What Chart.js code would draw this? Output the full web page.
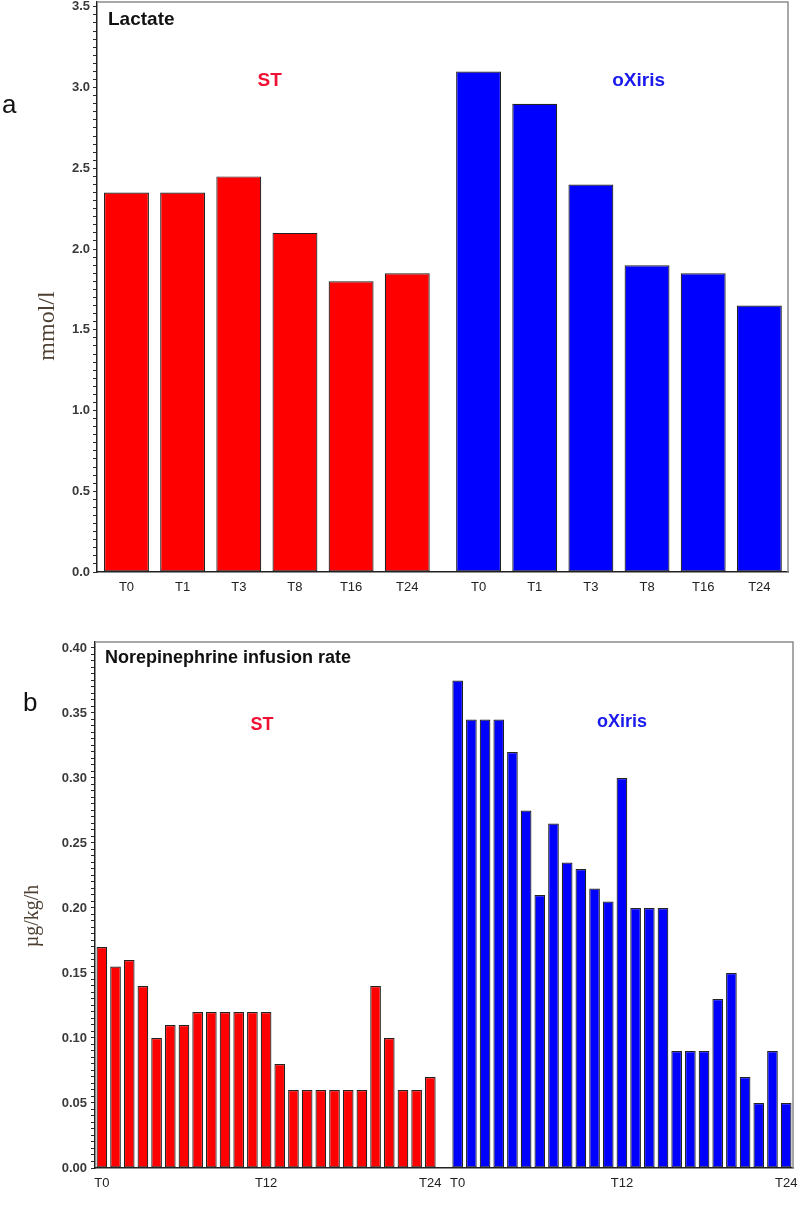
<!DOCTYPE html>
<html>
<head>
<meta charset="utf-8">
<script src="https://cdn.jsdelivr.net/npm/chart.js@4.4.1/dist/chart.umd.min.js"></script>
<style>
  html, body { margin: 0; padding: 0; background: #fff; }
  .panel { position: absolute; left: 0; width: 800px; }
  #panel-a { top: 0; height: 600px; }
  #panel-b { top: 600px; height: 605px; }
</style>
</head>
<body>
<div class="panel" id="panel-a"><canvas id="lactate-chart"></canvas></div>
<div class="panel" id="panel-b"><canvas id="ne-chart"></canvas></div>
<script>
// Panel a - lactate (mmol/l) at each sampling time
const lactateTimes = ['T0', 'T1', 'T3', 'T8', 'T16', 'T24'];
const lactateST = [2.35, 2.35, 2.45, 2.1, 1.8, 1.85];
const lactateOxiris = [3.1, 2.9, 2.4, 1.9, 1.85, 1.65];
const lactateTicks = [0, 0.5, 1.0, 1.5, 2.0, 2.5, 3.0, 3.5];

// Panel b - norepinephrine infusion rate (µg/kg/h), hourly T0..T24
const neHours = [0, 1, 2, 3, 4, 5, 6, 7, 8, 9, 10, 11, 12, 13, 14, 15, 16, 17, 18, 19, 20, 21, 22, 23, 24];
const neST = [0.17, 0.155, 0.16, 0.14, 0.10, 0.11, 0.11, 0.12, 0.12, 0.12, 0.12, 0.12, 0.12,
              0.08, 0.06, 0.06, 0.06, 0.06, 0.06, 0.06, 0.14, 0.10, 0.06, 0.06, 0.07];
const neOxiris = [0.375, 0.345, 0.345, 0.345, 0.32, 0.275, 0.21, 0.265, 0.235, 0.23, 0.215, 0.205, 0.30,
                  0.20, 0.20, 0.20, 0.09, 0.09, 0.09, 0.13, 0.15, 0.07, 0.05, 0.09, 0.05];
const neTickLabels = ['T0', 'T12', 'T24'];
const neTicks = [0, 0.05, 0.10, 0.15, 0.20, 0.25, 0.30, 0.35, 0.40];

const RED = '#ff0000';
const BLUE = '#0000ff';
const SANS = "'Liberation Sans', Arial, Helvetica, sans-serif";
const SERIF = "'Liberation Serif', 'Times New Roman', serif";
const TITLE_COLOR = '#4d4033';

Chart.defaults.font.family = SANS;

// y ticks every `step`, labels only on the major values
function minorTicks(max, step) {
    const ticks = [];
    const n = Math.floor(max / step + 1e-6);
    for (let i = 0; i <= n; i++) ticks.push({ value: +(i * step).toFixed(4) });
    return ticks;
}

function isMajor(v, majors) {
    return majors.some(m => Math.abs(m - v) < 1e-6);
}

// Plot frame (top/right edges) plus the text drawn inside the figure
function notesPlugin(notes) {
    return {
        id: 'notes',
        afterDatasetsDraw(chart) {
            const { ctx, chartArea } = chart;
            ctx.save();
            ctx.strokeStyle = '#8c8c8c';
            ctx.lineWidth = 1.5;
            ctx.beginPath();
            ctx.moveTo(chartArea.left, chartArea.top);
            ctx.lineTo(chartArea.right, chartArea.top);
            ctx.lineTo(chartArea.right, chartArea.bottom);
            ctx.stroke();

            ctx.textBaseline = 'middle';
            for (const n of notes) {
                const [x, y] = n.at(chart);
                ctx.save();
                ctx.translate(x, y);
                if (n.rotate) ctx.rotate(n.rotate);
                ctx.font = n.font;
                ctx.fillStyle = n.color;
                ctx.textAlign = n.align || 'center';
                ctx.fillText(n.text, 0, 0);
                ctx.restore();
            }
            ctx.restore();
        }
    };
}

function yAxis(max, step, majors, digits, width, tickPad) {
    return {
        stacked: true,
        min: 0,
        max: max,
        afterFit: s => { s.width = width; s.paddingTop = 0; s.paddingBottom = 0; },
        afterBuildTicks: s => { s.ticks = minorTicks(max, step); },
        grid: { drawOnChartArea: false, tickLength: 4, color: '#2a2a2a', tickWidth: 1 },
        border: { color: '#222', width: 1.5 },
        ticks: {
            autoSkip: false,
            padding: tickPad,
            color: '#3a3a3a',
            font: { size: 13, weight: 'bold' },
            callback: v => isMajor(v, majors) ? v.toFixed(digits) : ''
        }
    };
}

function xTicks(callback) {
    return {
        autoSkip: false,
        maxRotation: 0,
        padding: 8,
        color: '#222',
        font: { size: 13 },
        callback: callback
    };
}

const barStyle = { borderColor: '#222', borderWidth: 1.2, borderSkipped: false, categoryPercentage: 1 };

// ---- Panel a ----
const GROUP_GAP = 0.27;   // extra room between the ST and oXiris groups, in bar slots
const stX = lactateST.map((_, i) => i);
const oxX = lactateOxiris.map((_, i) => lactateST.length + GROUP_GAP + i);
const lactateLabels = [...lactateTimes, ...lactateTimes];

new Chart(document.getElementById('lactate-chart'), {
    type: 'bar',
    data: {
        datasets: [
            { label: 'ST', data: lactateST.map((v, i) => ({ x: stX[i], y: v })), backgroundColor: RED },
            { label: 'oXiris', data: lactateOxiris.map((v, i) => ({ x: oxX[i], y: v })), backgroundColor: BLUE }
        ]
    },
    options: {
        responsive: true,
        maintainAspectRatio: false,
        animation: false,
        layout: { padding: { left: 0, top: 2, right: 12, bottom: 0 } },
        datasets: { bar: { ...barStyle, barPercentage: 0.8 } },
        plugins: { legend: { display: false }, tooltip: { enabled: false } },
        scales: {
            x: {
                type: 'linear',
                stacked: true,
                offset: false,
                min: -0.525,
                max: 11.78,
                afterFit: s => { s.height = 28; s.paddingLeft = 0; s.paddingRight = 0; },
                afterBuildTicks: s => { s.ticks = [...stX, ...oxX].map(v => ({ value: v })); },
                grid: { display: false, drawTicks: false },
                border: { color: '#222', width: 1.5 },
                ticks: xTicks((v, i) => lactateLabels[i])
            },
            y: yAxis(3.53, 0.05, lactateTicks, 1, 97, 3)
        }
    },
    plugins: [notesPlugin([
        { text: 'a', font: '26px ' + SANS, color: '#111', align: 'left', at: () => [2, 106] },
        { text: 'mmol/l', font: '24px ' + SERIF, color: TITLE_COLOR, rotate: -Math.PI / 2, at: () => [48, 326] },
        { text: 'Lactate', font: 'bold 19px ' + SANS, color: '#111', align: 'left',
          at: c => [c.chartArea.left + 11, c.chartArea.top + 18] },
        { text: 'ST', font: 'bold 19px ' + SANS, color: '#ee1133',
          at: c => [c.scales.x.getPixelForValue(2.55), c.scales.y.getPixelForValue(3.04)] },
        { text: 'oXiris', font: 'bold 19px ' + SANS, color: '#1a1aee',
          at: c => [c.scales.x.getPixelForValue(9.12), c.scales.y.getPixelForValue(3.04)] }
    ])]
});

// ---- Panel b ----
const hourLabels = neHours.map(h => 'T' + h);
const neLabels = [...hourLabels, '', ...hourLabels];
const stData = [...neST, ...Array(neOxiris.length + 1).fill(null)];
const oxData = [...Array(neST.length + 1).fill(null), ...neOxiris];

new Chart(document.getElementById('ne-chart'), {
    type: 'bar',
    data: {
        labels: neLabels,
        datasets: [
            { label: 'ST', data: stData, backgroundColor: RED },
            { label: 'oXiris', data: oxData, backgroundColor: BLUE }
        ]
    },
    options: {
        responsive: true,
        maintainAspectRatio: false,
        animation: false,
        layout: { padding: { left: 0, top: 42, right: 7, bottom: 0 } },
        datasets: { bar: { ...barStyle, barPercentage: 0.78 } },
        plugins: { legend: { display: false }, tooltip: { enabled: false } },
        scales: {
            x: {
                stacked: true,
                afterFit: s => { s.height = 37; s.paddingLeft = 0; s.paddingRight = 0; },
                grid: { display: false, drawTicks: false },
                border: { color: '#222', width: 1.5 },
                ticks: xTicks((v, i) => neTickLabels.includes(neLabels[i]) ? neLabels[i] : '')
            },
            y: yAxis(0.4046, 0.005, neTicks, 2, 95, 4)
        }
    },
    plugins: [notesPlugin([
        { text: 'b', font: '26px ' + SANS, color: '#111', align: 'left', at: () => [23, 104] },
        { text: 'µg/kg/h', font: '20px ' + SERIF, color: TITLE_COLOR, rotate: -Math.PI / 2, at: () => [33, 316] },
        { text: 'Norepinephrine infusion rate', font: 'bold 18px ' + SANS, color: '#111', align: 'left',
          at: c => [c.chartArea.left + 10, c.chartArea.top + 16] },
        { text: 'ST', font: 'bold 18px ' + SANS, color: '#ee1133',
          at: c => [c.scales.x.getPixelForValue(11.7), c.scales.y.getPixelForValue(0.341)] },
        { text: 'oXiris', font: 'bold 18px ' + SANS, color: '#1a1aee',
          at: c => [c.scales.x.getPixelForValue(38.0), c.scales.y.getPixelForValue(0.343)] }
    ])]
});
</script>
</body>
</html>
